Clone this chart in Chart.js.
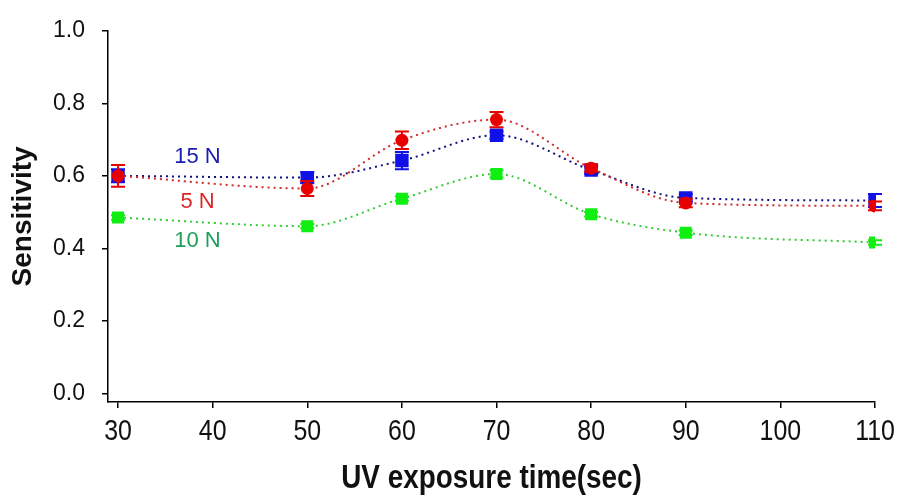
<!DOCTYPE html>
<html>
<head>
<meta charset="utf-8">
<script src="https://cdn.jsdelivr.net/npm/chart.js@4.4.1/dist/chart.umd.min.js"></script>
<style>
  html, body { margin: 0; padding: 0; background: #fff; }
  #wrap { width: 898px; height: 500px; }
</style>
</head>
<body>
<div id="wrap"><canvas id="chart"></canvas></div>
<script>
// Data
const exposureTimes = [30, 50, 60, 70, 80, 90, 110];
const xTicks = [30, 40, 50, 60, 70, 80, 90, 100, 110];
const yTicks = [0.0, 0.2, 0.4, 0.6, 0.8, 1.0];

const sens5N = [0.600, 0.565, 0.698, 0.755, 0.621, 0.525, 0.517];
const err5N = [0.030, 0.021, 0.024, 0.021, 0.010, 0.012, 0.012];

const sens15N = [0.600, 0.595, 0.642, 0.712, 0.616, 0.539, 0.532];
const err15N = [0.018, 0.015, 0.024, 0.010, 0.010, 0.010, 0.018];

const sens10N = [0.485, 0.461, 0.537, 0.605, 0.494, 0.443, 0.416];
const err10N = [0.006, 0.006, 0.006, 0.010, 0.006, 0.006, 0.006];

const xTitle = 'UV exposure time(sec)';

// series labels placed in data coordinates
const seriesLabels = [
    { text: '15 N', x: 38.4, y: 0.653, color: '#1a1ab4' },
    { text: '5 N', x: 38.4, y: 0.528, color: '#d82a2a' },
    { text: '10 N', x: 38.4, y: 0.419, color: '#1fa05a' }
];

function toPoints(values) {
    return exposureTimes.map((t, i) => ({ x: t, y: values[i] }));
}

// Error bars drawn through the chart scales
const errorBarPlugin = {
    id: 'errorBars',
    afterDatasetDraw(chart, args) {
        const ds = chart.data.datasets[args.index];
        if (!ds.errors) return;
        const xs = chart.scales.x, ys = chart.scales.y;
        const ctx = chart.ctx;
        ctx.save();
        ctx.strokeStyle = ds.pointBackgroundColor;
        ctx.lineWidth = 2;
        ds.data.forEach((p, i) => {
            const px = xs.getPixelForValue(p.x);
            const top = ys.getPixelForValue(p.y + ds.errors[i]);
            const bot = ys.getPixelForValue(p.y - ds.errors[i]);
            ctx.beginPath();
            ctx.moveTo(px, top); ctx.lineTo(px, bot);
            ctx.moveTo(px - 7, top); ctx.lineTo(px + 7, top);
            ctx.moveTo(px - 7, bot); ctx.lineTo(px + 7, bot);
            ctx.stroke();
        });
        ctx.restore();
    }
};

// narrow text: no condensed Arial installed, so squeeze Liberation Sans
function narrowText(ctx, text, x, y, squeeze) {
    ctx.save();
    ctx.translate(x, y);
    ctx.scale(squeeze, 1);
    ctx.fillText(text, 0, 0);
    ctx.restore();
}

const textPlugin = {
    id: 'texts',
    afterDraw(chart) {
        const ctx = chart.ctx;
        const xs = chart.scales.x, ys = chart.scales.y;
        ctx.save();
        ctx.textAlign = 'center';
        ctx.textBaseline = 'middle';

        ctx.font = '22px "Liberation Sans", Arial, sans-serif';
        seriesLabels.forEach(l => {
            ctx.fillStyle = l.color;
            ctx.fillText(l.text, xs.getPixelForValue(l.x), ys.getPixelForValue(l.y));
        });

        ctx.fillStyle = '#111';
        ctx.font = '30px "Liberation Sans", Arial, sans-serif';
        xTicks.forEach(v => narrowText(ctx, String(v), xs.getPixelForValue(v), xs.top + 30, 0.83));

        ctx.font = 'bold 33px "Liberation Sans", Arial, sans-serif';
        narrowText(ctx, xTitle, (xs.left + xs.right) / 2, xs.top + 77, 0.845);
        ctx.restore();
    }
};

function lineSet(label, values, errors, lineColor, markColor, shape, radius) {
    return {
        label: label,
        data: toPoints(values),
        errors: errors,
        borderColor: lineColor,
        borderWidth: 2,
        borderDash: [2, 4],
        cubicInterpolationMode: 'monotone',
        fill: false,
        pointStyle: shape,
        pointRadius: radius,
        pointHoverRadius: radius,
        pointBackgroundColor: markColor,
        pointBorderColor: markColor,
        pointBorderWidth: 0
    };
}

const ctx = document.getElementById('chart').getContext('2d');
new Chart(ctx, {
    type: 'line',
    data: {
        datasets: [
            lineSet('10 N', sens10N, err10N, '#33cc33', '#11ee11', 'rect', 8.5),
            lineSet('5 N', sens5N, err5N, '#d02a2a', '#e80000', 'circle', 6.5),
            lineSet('15 N', sens15N, err15N, '#101080', '#1010e8', 'rect', 9.5)
        ]
    },
    options: {
        responsive: true,
        maintainAspectRatio: false,
        animation: false,
        layout: { padding: { top: 18, right: 23, left: 0, bottom: 0 } },
        plugins: {
            legend: { display: false },
            tooltip: { enabled: false }
        },
        scales: {
            x: {
                type: 'linear',
                min: 28.94,
                max: 110,
                afterBuildTicks: s => { s.ticks = xTicks.map(v => ({ value: v })); },
                afterFit: s => { s.height = 98; },
                border: { display: true, color: '#000', width: 1.5 },
                grid: { display: true, drawOnChartArea: false, drawTicks: true, tickLength: 6, color: '#000', lineWidth: 1.5 },
                ticks: { display: false },
                title: { display: false }
            },
            y: {
                min: -0.024,
                max: 1.0,
                afterBuildTicks: s => { s.ticks = yTicks.map(v => ({ value: v })); },
                afterFit: s => { s.width = 108; },
                border: { display: true, color: '#000', width: 1.5 },
                grid: { display: true, drawOnChartArea: false, drawTicks: true, tickLength: 6, color: '#000', lineWidth: 1.5 },
                ticks: {
                    color: '#111',
                    padding: 17,
                    callback: v => v.toFixed(1),
                    font: { family: '"Liberation Sans", Arial', size: 23 }
                },
                title: {
                    display: true,
                    text: 'Sensitivity',
                    color: '#111',
                    padding: { top: 6, bottom: 0 },
                    font: { family: '"Liberation Sans", Arial', size: 28, weight: 'bold' }
                }
            }
        }
    },
    plugins: [errorBarPlugin, textPlugin]
});
</script>
</body>
</html>
